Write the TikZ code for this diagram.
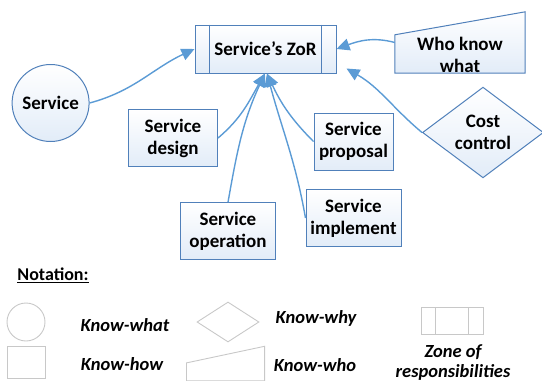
\documentclass[tikz,border=0pt]{standalone}
\usepackage{fontspec}
\setmainfont{Carlito}
\usetikzlibrary{shapes.geometric,arrows.meta}
\definecolor{lineblue}{RGB}{91,155,213}
\definecolor{edgeblue}{RGB}{80,128,186}
\definecolor{fillblue}{RGB}{226,236,248}
\definecolor{legendgrey}{RGB}{200,200,200}
\begin{document}
\begin{tikzpicture}[x=1pt,y=-1pt,
  box/.style={draw=edgeblue, line width=1pt, top color=white, bottom color=fillblue,
    font=\bfseries\fontsize{19}{22}\selectfont, align=center, inner sep=0pt},
  conn/.style={draw=lineblue, line width=1.4pt, -{Triangle[length=13pt,width=12pt]}},
  leg/.style={draw=legendgrey, line width=0.9pt, inner sep=0pt},
  legtext/.style={font=\bfseries\itshape\fontsize{18.5}{20}\selectfont, align=center}]
\useasboundingbox (0,0) rectangle (542,381);

% main shapes
\node[box, minimum width=141pt, minimum height=48pt] (zor) at (265.5,49) {Service’s ZoR};
\draw[edgeblue, line width=1pt] ([xshift=15pt]zor.north west) -- ([xshift=15pt]zor.south west);
\draw[edgeblue, line width=1pt] ([xshift=-15pt]zor.north east) -- ([xshift=-15pt]zor.south east);

\node[minimum width=130pt, minimum height=61pt, inner sep=0pt] (who) at (460,42.5) {};
\draw[edgeblue, line width=1pt, top color=white, bottom color=fillblue]
  ([yshift=-23pt]who.north west) -- (who.north east) -- (who.south east) -- (who.south west) -- cycle;
\node[font=\bfseries\fontsize{19}{22}\selectfont, align=center] (whotxt) at (460,55) {Who know\\what};

\node[box, circle, minimum size=77pt] (service) at (50.6,103) {Service};
\node[box, minimum width=89pt, minimum height=57pt] (design) at (173,138) {Service\\design};
\node[box, minimum width=79pt, minimum height=57pt] (proposal) at (353.5,141.5) {Service\\proposal};
\node[box, minimum width=95pt, minimum height=56.5pt] (operation) at (228,231) {Service\\operation};
\node[box, minimum width=95pt, minimum height=57.5pt] (implement) at (353.5,218) {Service\\implement};
\node[box, diamond, minimum width=121pt, minimum height=75pt] (cost) at (483,132.5) {Cost\\control};

% connectors
\draw[conn] (service.east) to[out=15,in=205] (zor.west);
\draw[conn] (who.west) to[out=165,in=20] (zor.east);
\draw[conn] (cost.west) to[out=140,in=-30] ([xshift=10pt,yshift=5pt]zor.south east);
\draw[conn] (design.east) to[out=40,in=-120] ([xshift=-0.5pt]zor.south);
\draw[conn] (operation.north) to[out=80,in=-115] ([xshift=-0.5pt]zor.south);
\draw[conn] (proposal.west) to[out=135,in=-65] ([xshift=1.5pt]zor.south);
\draw[conn] (implement.west) to[out=100,in=-75] ([xshift=1.5pt]zor.south);

% notation
\node[font=\bfseries\fontsize{18}{20}\selectfont] (notation) at (53,275.5) {\underline{Notation:}};
\node[leg, circle, minimum size=38pt] (lcirc) at (26,322) {};
\node[legtext] (kwhat) at (125,324.6) {Know-what};
\node[leg, diamond, minimum width=62pt, minimum height=40pt] (ldiam) at (228,322) {};
\node[legtext] (kwhy) at (316,318.8) {Know-why};
\node[leg, minimum width=62pt, minimum height=26.6pt] (lzone) at (452,321) {};
\draw[legendgrey, line width=0.9pt] ([xshift=15pt]lzone.north west) -- ([xshift=15pt]lzone.south west);
\draw[legendgrey, line width=0.9pt] ([xshift=-15pt]lzone.north east) -- ([xshift=-15pt]lzone.south east);
\node[leg, minimum width=38pt, minimum height=32.2pt] (lsq) at (26,362.5) {};
\node[legtext] (khow) at (122,363.7) {Know-how};
\node[minimum width=77.7pt, minimum height=34pt, inner sep=0pt] (ltrap) at (225.5,363.5) {};
\draw[legendgrey, line width=0.9pt]
  ([yshift=-16.6pt]ltrap.north west) -- (ltrap.north east) -- (ltrap.south east) -- (ltrap.south west) -- cycle;
\node[legtext] (kwho) at (315,365.4) {Know-who};
\node[legtext, anchor=base] (kzone) at (453,377) {Zone of\\responsibilities};
\end{tikzpicture}
\end{document}
